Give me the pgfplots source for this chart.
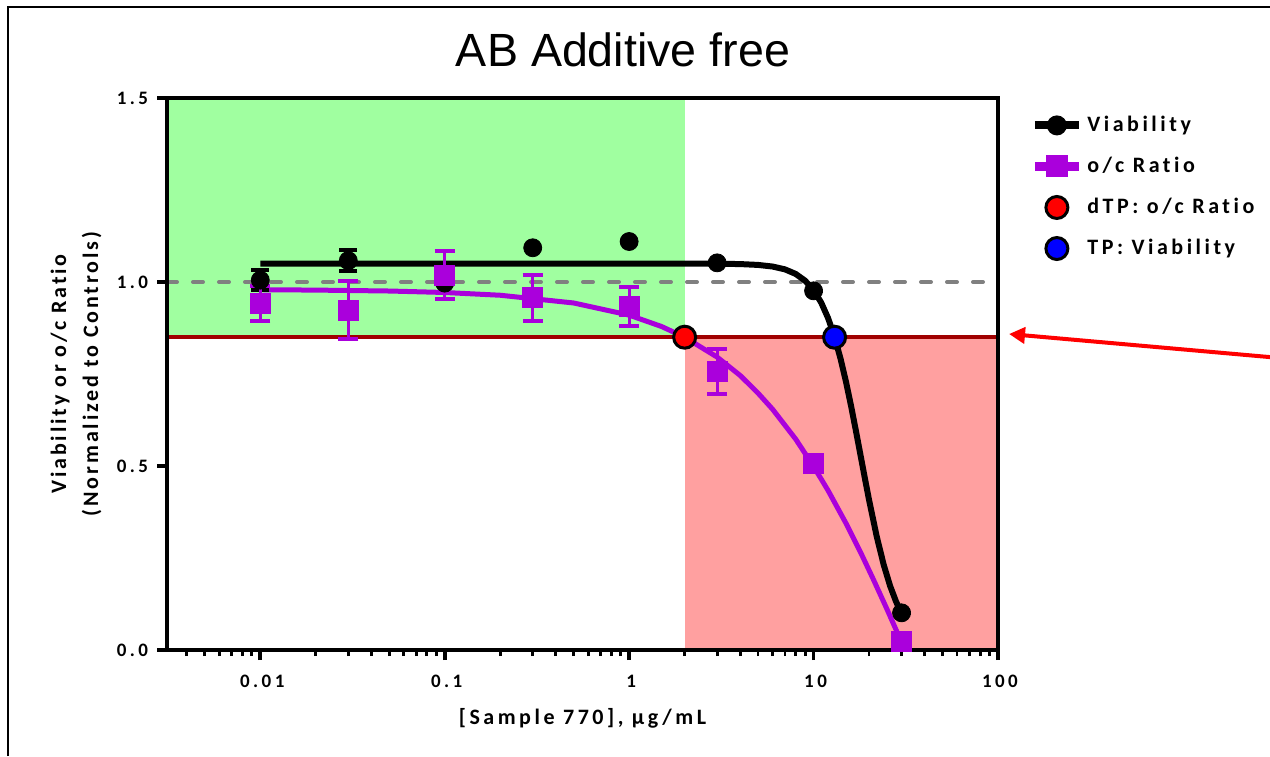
\documentclass[border=0pt]{standalone}
\usepackage{fontspec}
\setmainfont{Carlito}
\newfontfamily\lbl{Carlito}[LetterSpace=13, Ligatures=NoCommon]
\newfontfamily\xlbl{Carlito}[LetterSpace=16, Ligatures=NoCommon]
\newfontfamily\tlbl{Carlito}[LetterSpace=18, Ligatures=NoCommon]
\newfontfamily\ttl{Liberation Sans}
\usepackage{pgfplots}
\pgfplotsset{compat=1.18}
\usetikzlibrary{arrows.meta}
\definecolor{vpurple}{RGB}{170,0,220}
\definecolor{gfill}{RGB}{160,255,160}
\definecolor{rfill}{RGB}{255,160,160}
\definecolor{dred}{RGB}{160,0,0}
\definecolor{dgray}{RGB}{128,128,128}

\pgfplotstableread{
x y e
0.01 1.005 0.028
0.03 1.058 0.028
0.1 0.997 0
0.3 1.093 0
1 1.110 0
3 1.052 0
10 0.976 0
30 0.101 0
}\viab

\pgfplotstableread{
x y e
0.01 0.942 0.047
0.03 0.924 0.080
0.1 1.019 0.066
0.3 0.957 0.063
1 0.933 0.053
3 0.756 0.061
10 0.507 0
30 0.023 0
}\ocr

\pgfplotstableread{
x y
0.01 1.050
0.1 1.050
1 1.050
2 1.0499
3 1.0496
4 1.0487
5 1.0464
6 1.0420
7 1.0343
8 1.0219
9 1.0035
10 0.9779
11 0.9440
12 0.9013
13 0.8500
14 0.7919
15 0.7282
16 0.6612
17 0.5935
18 0.5276
19 0.4652
20 0.4074
22 0.3085
24 0.2317
26 0.1741
28 0.1316
30 0.1003
}\viabfit

\pgfplotstableread{
x y
0.01 0.979
0.02 0.978
0.05 0.9755
0.1 0.9715
0.2 0.964
0.5 0.943
1 0.910
1.5 0.879
2 0.850
3 0.796
4 0.746
5 0.698
6 0.654
8 0.573
10 0.499
12 0.433
15 0.344
18 0.265
21 0.194
25 0.111
30 0.021
}\ocrfit

\begin{document}
\begin{tikzpicture}
\path[use as bounding box] (0,0) rectangle (635pt,378pt);
\draw[line width=1pt] (4pt,0) -- (4pt,374.5pt) -- (635pt,374.5pt);
\node[font=\ttl\fontsize{23.3}{26}\selectfont] at (311.5pt,353pt) {AB Additive free};
\begin{axis}[
  at={(83.5pt,53pt)}, anchor=south west,
  scale only axis, width=415.5pt, height=276pt,
  xmode=log, xmin=0.00312, xmax=100, ymin=0, ymax=1.5,
  axis line style={line width=2pt},
  axis on top,
  tick align=outside,
  xtick pos=bottom, ytick pos=left,
  major tick style={line width=1.8pt, black},
  minor tick style={line width=1.4pt, black},
  major tick length=5pt, minor tick length=3pt,
  xtick={0.01,0.1,1,10,100}, xticklabels={0.01,0.1,1,10,100},
  minor xtick={0.004,0.005,0.006,0.007,0.008,0.009,0.02,0.03,0.04,0.05,0.06,0.07,0.08,0.09,0.2,0.3,0.4,0.5,0.6,0.7,0.8,0.9,2,3,4,5,6,7,8,9,20,30,40,50,60,70,80,90},
  ytick={0,0.5,1,1.5}, yticklabels={0.0,0.5,1.0,1.5},
  ticklabel style={font=\tlbl\bfseries\fontsize{9.5}{11}\selectfont},
  xticklabel style={yshift=-4pt, xshift=1pt},
  yticklabel style={xshift=-1pt},
  xlabel={[Sample 770], µg/mL},
  ylabel={Viability or o/c Ratio\\(Normalized to Controls)},
  xlabel style={font=\xlbl\bfseries\fontsize{11}{13}\selectfont, at={(axis description cs:0.5,-0.123)}, anchor=center},
  ylabel style={font=\lbl\bfseries\fontsize{11}{16}\selectfont, align=center, at={(axis description cs:-0.1095,0.5)}, anchor=center},
  clip=false,
  legend style={at={(rel axis cs:1.0385,0.975)}, anchor=north west, draw=none, fill=none, inner sep=0pt,
    font=\xlbl\bfseries\fontsize{11}{12}\selectfont, row sep=7.3pt, cells={anchor=west}},
  legend cell align=left,
  mylegend/.style={legend image code/.code={\draw[mark repeat=2,mark phase=2,##1] plot coordinates {(0pt,0pt)(11pt,0pt)(22pt,0pt)};}},
  mylegend,
]
% shaded regions
\addplot[draw=none, fill=gfill, forget plot] coordinates {(0.00312,0.85)(2,0.85)(2,1.5)(0.00312,1.5)} -- cycle;
\addplot[draw=none, fill=rfill, forget plot] coordinates {(2,0)(100,0)(100,0.85)(2,0.85)} -- cycle;
% reference lines
\addplot[dred, line width=2pt, forget plot] coordinates {(0.00312,0.85)(100,0.85)};
\addplot[dgray, line width=2pt, dash pattern=on 5pt off 8pt, line cap=round, forget plot] coordinates {(0.00312,1.0)(100,1.0)};
% fitted curves
\addplot[black, line width=3pt, line join=round, forget plot] table {\viabfit};
\addplot[vpurple, line width=2.5pt, line join=round, forget plot] table {\ocrfit};
% data points
\addplot[only marks, mark=*, mark size=4.5pt, black, forget plot,
  error bars/.cd, y dir=both, y explicit,
  error bar style={line width=1.5pt, black},
  error mark options={rotate=90, mark size=4.5pt, line width=2pt, black}]
  table[x=x, y=y, y error=e] {\viab};
\addplot[only marks, mark=square*, mark size=5pt, vpurple, forget plot,
  error bars/.cd, y dir=both, y explicit,
  error bar style={line width=1.5pt, vpurple},
  error mark options={rotate=90, mark size=5pt, line width=2pt, vpurple}]
  table[x=x, y=y, y error=e] {\ocr};
% threshold points
\addplot[only marks, mark=*, mark size=5.5pt, mark options={fill=red, draw=black, line width=1.5pt}, forget plot] coordinates {(2,0.85)};
\addplot[only marks, mark=*, mark size=5.5pt, mark options={fill=blue, draw=black, line width=1.5pt}, forget plot] coordinates {(13,0.85)};
% legend
\addlegendimage{black, line width=4pt, mark=*, mark size=4.5pt, mark options={line width=1pt}}
\addlegendentry{Viability}
\addlegendimage{vpurple, line width=4.5pt, mark=square*, mark size=5pt, mark options={line width=1pt}}
\addlegendentry{o/c Ratio}
\addlegendimage{only marks, mark=*, mark size=5.5pt, mark options={fill=red, draw=black, line width=1.5pt}, mylegend}
\addlegendentry{dTP: o/c Ratio}
\addlegendimage{only marks, mark=*, mark size=5.5pt, mark options={fill=blue, draw=black, line width=1.5pt}, mylegend}
\addlegendentry{TP: Viability}
\end{axis}
\draw[red, line width=2pt, -{Triangle[length=8pt,width=8pt]}] (640pt,199pt) -- (504.5pt,211pt);
\end{tikzpicture}
\end{document}
